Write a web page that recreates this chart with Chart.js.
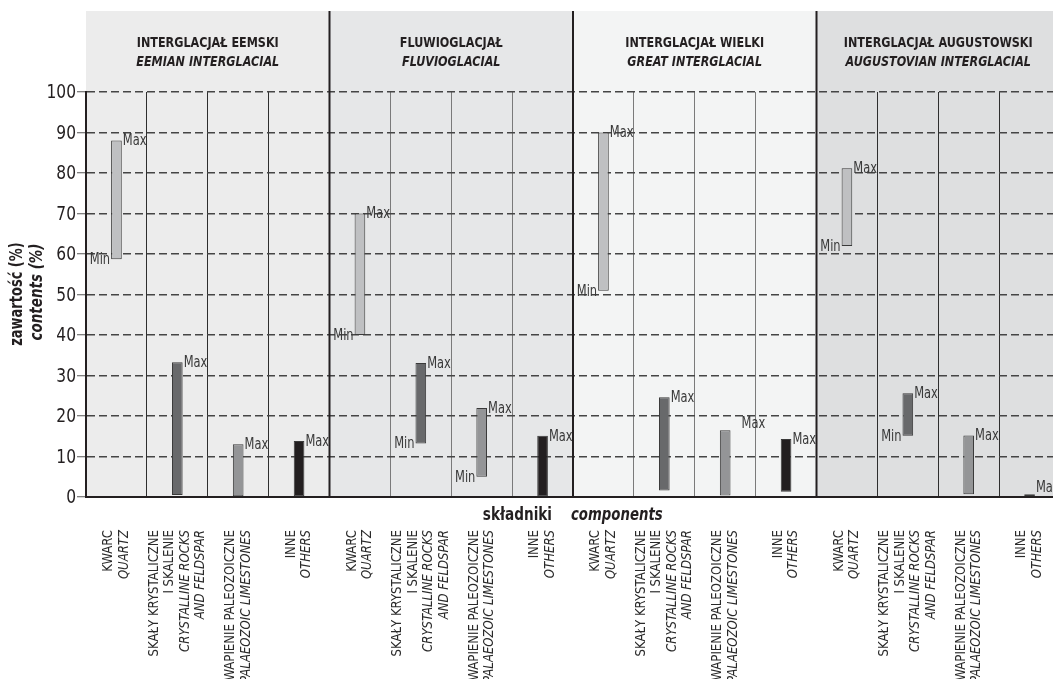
<!DOCTYPE html>
<html><head><meta charset="utf-8">
<script src="https://cdn.jsdelivr.net/npm/chart.js@4.4.1/dist/chart.umd.min.js"></script>
<style>
html,body{margin:0;padding:0;background:#fff;overflow:hidden;}
#wrap{width:1053px;height:679px;overflow:hidden;position:relative;background:#fff;}
#c{position:absolute;left:0;top:0;}
</style></head><body>
<div id="wrap"><canvas id="c" width="1070" height="679" style="width:1070px;height:679px"></canvas></div>
<script>
// ---- data ----
const groupTitlesPL = ['INTERGLACJAŁ EEMSKI', 'FLUWIOGLACJAŁ', 'INTERGLACJAŁ WIELKI', 'INTERGLACJAŁ AUGUSTOWSKI'];
const groupTitlesEN = ['EEMIAN INTERGLACIAL', 'FLUVIOGLACIAL', 'GREAT INTERGLACIAL', 'AUGUSTOVIAN INTERGLACIAL'];
const componentsPL = [['KWARC'], ['SKAŁY KRYSTALICZNE', 'I SKALENIE'], ['WAPIENIE PALEOZOICZNE'], ['INNE']];
const componentsEN = [['QUARTZ'], ['CRYSTALLINE ROCKS', 'AND FELDSPAR'], ['PALAEOZOIC LIMESTONES'], ['OTHERS']];
const minValues = [58.7, 0.5, 0, 0,   40, 13.2, 5, 0,   50.9, 1.6, 0.4, 1.3,   62, 15.1, 0.7, 0];
const maxValues = [88, 33.3, 13, 13.8, 70, 33.1, 22, 15.1, 90, 24.6, 16.5, 14.3, 81.2, 25.6, 15.2, 0.7];
const showMinLabel = [1,0,0,0, 1,1,1,0, 1,0,0,0, 1,1,0,0];
const yTickValues = [0,10,20,30,40,50,60,70,80,90,100];
const axisTitleY = ['zawartość (%)', 'contents (%)'];
const axisTitleX = ['składniki', 'components'];

// ---- style ----
const FONT = '"DejaVu Sans Condensed", "Liberation Sans Narrow", "Arial Narrow", "Liberation Sans", sans-serif';
const componentColors = ['#bfc0c2', '#68696b', '#949597', '#231f20'];
const bandColors = ['#ececec', '#e6e7e8', '#f3f4f4', '#dedfe0'];
const subLineColors = ['#2e2e2e', '#7a7a7a', '#7a7a7a', '#2e2e2e'];
const labelNudge = {10: [10, -7], 15: [0, -7]};
const INK = '#231f20';

const labels = [];
groupTitlesPL.forEach(() => componentsPL.forEach(c => labels.push(c.join(' '))));
const ranges = minValues.map((m, i) => [m, maxValues[i]]);

function colEdges(xs, i) {
  const c = xs.getPixelForValue(i);
  const w = xs.getPixelForValue(1) - xs.getPixelForValue(0);
  return [c - w / 2, c + w / 2];
}
function txt(ctx, s, x, y, font, align, sx, rot) {
  ctx.save();
  ctx.translate(x, y);
  if (rot) ctx.rotate(rot);
  ctx.scale(sx, 1);
  ctx.font = font;
  ctx.textAlign = align;
  ctx.textBaseline = 'middle';
  ctx.fillText(s, 0, 0);
  ctx.restore();
}

const decor = {
  id: 'decor',
  beforeDraw(chart) {
    const ctx = chart.ctx, xs = chart.scales.x, ca = chart.chartArea;
    ctx.save();
    for (let g = 0; g < 4; g++) {
      const x0 = colEdges(xs, g * 4)[0], x1 = colEdges(xs, g * 4 + 3)[1];
      ctx.fillStyle = bandColors[g];
      ctx.fillRect(x0, 11, x1 - x0, ca.bottom - 11);
    }
    ctx.restore();
  },
  afterDatasetsDraw(chart) {
    const ctx = chart.ctx, ys = chart.scales.y;
    const meta = chart.getDatasetMeta(0);
    ctx.save();
    ctx.fillStyle = '#3a3a3a';
    const f = '15px ' + FONT;
    meta.data.forEach((el, i) => {
      const half = el.width / 2;
      const nud = labelNudge[i] || [0, 0];
      txt(ctx, 'Max', el.x + half + 1 + nud[0], ys.getPixelForValue(maxValues[i]) + 1 + nud[1], f, 'left', 0.85);
      if (showMinLabel[i]) {
        txt(ctx, 'Min', el.x - half - 1, ys.getPixelForValue(minValues[i]) + 1, f, 'right', 0.85);
      }
    });
    ctx.restore();
  },
  afterDraw(chart) {
    const ctx = chart.ctx, xs = chart.scales.x, ys = chart.scales.y, ca = chart.chartArea;
    ctx.save();
    // group separators
    ctx.strokeStyle = INK; ctx.lineWidth = 2;
    for (let g = 1; g < 4; g++) {
      const x = colEdges(xs, g * 4)[0];
      ctx.beginPath(); ctx.moveTo(x, 11); ctx.lineTo(x, ca.bottom); ctx.stroke();
    }
    ctx.fillStyle = INK;
    // y tick labels
    yTickValues.forEach(v => txt(ctx, String(v), ca.left - 10, ys.getPixelForValue(v) + 1, '20px ' + FONT, 'right', 0.86));
    // headers
    for (let g = 0; g < 4; g++) {
      const cx = (colEdges(xs, g * 4)[0] + colEdges(xs, g * 4 + 3)[1]) / 2;
      txt(ctx, groupTitlesPL[g], cx, 43, 'bold 14px ' + FONT, 'center', 0.89);
      txt(ctx, groupTitlesEN[g], cx, 62, 'italic bold 14px ' + FONT, 'center', 0.89);
    }
    // y title
    txt(ctx, axisTitleY[0], 18, 294, 'bold 17px ' + FONT, 'center', 0.85, -Math.PI / 2);
    txt(ctx, axisTitleY[1], 38, 292, 'italic bold 17px ' + FONT, 'center', 0.88, -Math.PI / 2);
    // x title
    txt(ctx, axisTitleX[0], 552, 515, 'bold 18px ' + FONT, 'right', 0.84);
    txt(ctx, axisTitleX[1], 571, 515, 'italic bold 18px ' + FONT, 'left', 0.82);
    // category labels
    ctx.fillStyle = '#2a2a2a';
    for (let i = 0; i < labels.length; i++) {
      const c = i % 4;
      const lines = componentsPL[c].map(t => [t, false]).concat(componentsEN[c].map(t => [t, true]));
      const cx = xs.getPixelForValue(i);
      lines.forEach((ln, k) => {
        const lx = cx + (k - (lines.length - 1) / 2) * 15.5;
        txt(ctx, ln[0], lx, 530, (ln[1] ? 'italic ' : '') + '14px ' + FONT, 'right', 0.93, -Math.PI / 2);
      });
    }
    ctx.restore();
  }
};

new Chart(document.getElementById('c'), {
  type: 'bar',
  data: {
    labels,
    datasets: [{
      data: ranges,
      backgroundColor: labels.map((_, i) => componentColors[i % 4]),
      borderColor: '#3a3a3a',
      borderWidth: 1,
      borderSkipped: false,
      barPercentage: 0.175,
      categoryPercentage: 1
    }]
  },
  options: {
    responsive: false,
    animation: false,
    devicePixelRatio: 1,
    layout: {padding: {top: 92, right: 10, bottom: 0, left: 0}},
    plugins: {legend: {display: false}, tooltip: {enabled: false}},
    scales: {
      x: {
        offset: true,
        grid: {offset: true, drawTicks: false, lineWidth: 1,
          color: c => subLineColors[Math.min(3, Math.floor(c.index / 4))]},
        ticks: {display: false},
        border: {display: true, color: INK, width: 2},
        afterFit(s) { s.height = 182; }
      },
      y: {
        min: 0, max: 100,
        afterBuildTicks(s) { s.ticks = yTickValues.map(v => ({value: v})); },
        ticks: {display: false},
        grid: {color: '#454545', lineWidth: 1.5, drawTicks: true, tickLength: 9, tickColor: '#555', tickWidth: 1, tickBorderDash: []},
        border: {display: true, color: INK, width: 2, dash: [8, 4]},
        afterFit(s) { s.width = 86; }
      }
    }
  },
  plugins: [decor]
});
</script>
</body></html>
